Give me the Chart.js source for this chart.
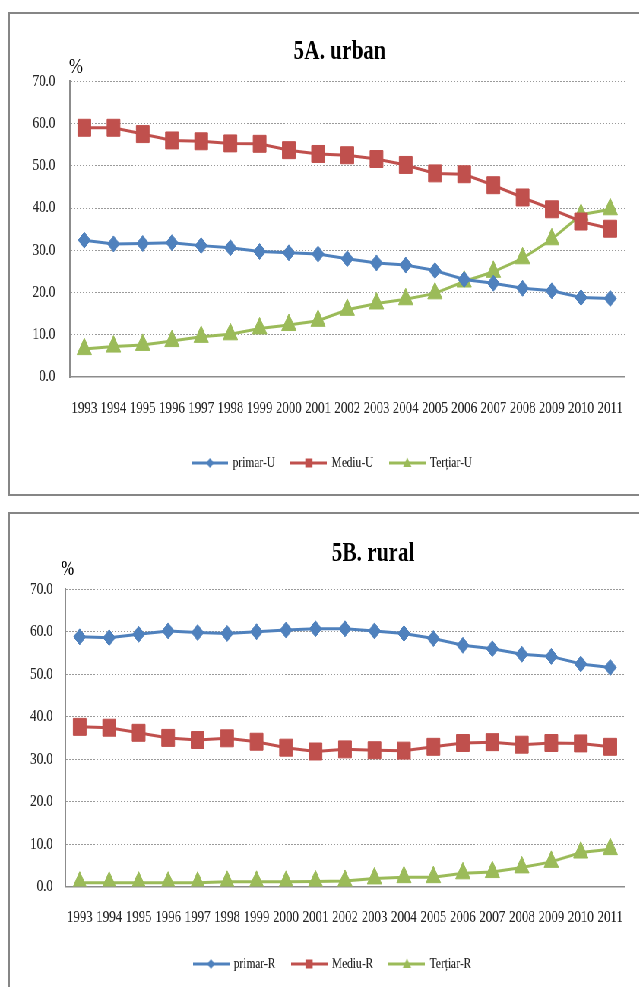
<!DOCTYPE html>
<html>
<head>
<meta charset="utf-8">
<script src="https://cdn.jsdelivr.net/npm/chart.js@4.4.1/dist/chart.umd.min.js"></script>
<style>
  html, body { margin: 0; padding: 0; background: #fff; overflow: hidden; }
  #page { position: relative; width: 639px; height: 987px; overflow: hidden; background: #fff; }
  .box { position: absolute; border: 2px solid #868686; box-sizing: content-box; }
  #wrap { position: absolute; left: 0; top: 0; width: 841px; height: 987px; transform: scaleX(0.76); transform-origin: 0 0; }
  canvas { position: absolute; left: 0; }
</style>
</head>
<body>
<div id="page">
  <div class="box" style="left:8px;top:12px;width:900px;height:480px;"></div>
  <div class="box" style="left:8px;top:512px;width:900px;height:600px;"></div>
  <div id="wrap">
    <canvas id="c1" width="841" height="500" style="top:0;width:841px;height:500px;"></canvas>
    <canvas id="c2" width="841" height="487" style="top:500px;width:841px;height:487px;"></canvas>
  </div>
</div>
<script>
// ---- data ----
const years = ['1993','1994','1995','1996','1997','1998','1999','2000','2001','2002','2003','2004','2005','2006','2007','2008','2009','2010','2011'];
const yTicks = [0, 10, 20, 30, 40, 50, 60, 70];

const primarU  = [32.4,31.5,31.6,31.8,31.1,30.6,29.7,29.4,29.1,28.0,27.0,26.5,25.2,23.1,22.2,21.0,20.4,18.8,18.6];
const mediuU   = [59.0,59.0,57.5,56.0,55.8,55.3,55.2,53.7,52.8,52.5,51.6,50.2,48.2,48.0,45.4,42.5,39.7,36.8,35.1];
const tertiarU = [6.6,7.2,7.6,8.5,9.5,10.1,11.5,12.3,13.3,15.9,17.4,18.4,19.8,22.6,24.9,28.1,32.6,38.4,39.7];

const primarR  = [58.8,58.6,59.4,60.2,59.8,59.6,60.0,60.4,60.7,60.7,60.2,59.6,58.4,56.8,56.0,54.7,54.2,52.4,51.6];
const mediuR   = [37.6,37.4,36.2,35.0,34.5,34.9,34.1,32.7,31.8,32.3,32.1,32.0,32.9,33.8,34.0,33.4,33.8,33.7,32.9];
const tertiarR = [0.9,0.9,0.9,0.9,0.9,1.1,1.1,1.1,1.2,1.3,1.9,2.2,2.2,3.1,3.4,4.5,5.8,8.0,8.8];

const labelsU = ['primar-U', 'Mediu-U', 'Terțiar-U'];
const labelsR = ['primar-R', 'Mediu-R', 'Terțiar-R'];

// ---- styles ----
const BLUE = '#4f81bd', RED = '#c0504d', GREEN = '#9bbb59';
const FONT = '"Liberation Serif", "Times New Roman", serif';
Chart.defaults.font.family = FONT;

function legendImg(color, shape) {
  const c = document.createElement('canvas');
  c.width = 48; c.height = 14;
  const g = c.getContext('2d');
  g.strokeStyle = color; g.lineWidth = 3;
  g.beginPath(); g.moveTo(0, 7); g.lineTo(48, 7); g.stroke();
  g.fillStyle = color;
  g.beginPath();
  if (shape === 'diamond') { g.moveTo(24, 2); g.lineTo(29, 7); g.lineTo(24, 12); g.lineTo(19, 7); }
  else if (shape === 'square') { g.rect(19.5, 2.5, 9, 9); }
  else { g.moveTo(24, 1.5); g.lineTo(29.5, 11); g.lineTo(18.5, 11); }
  g.closePath(); g.fill();
  return c;
}
const legImgs = [legendImg(BLUE, 'diamond'), legendImg(RED, 'square'), legendImg(GREEN, 'triangle')];

const deco = {
  id: 'deco',
  afterLayout(chart, args, o) {
    const l = chart.legend;
    if (l) {
      const h = 60;
      l.left = o.legendDx; l.right = chart.width + o.legendDx;
      l.top = o.legendTop; l.bottom = o.legendTop + h;
      l.width = l.right - l.left; l.height = h;
    }
  },
  afterDraw(chart, args, o) {
    const ctx = chart.ctx;
    ctx.save();
    ctx.fillStyle = '#000';
    ctx.textAlign = 'center';
    ctx.textBaseline = 'middle';
    ctx.font = 'bold 28px ' + FONT;
    ctx.fillText(o.title, o.tx, o.ty);
    ctx.font = o.pfont;
    ctx.fillText('%', o.px, o.py);
    ctx.restore();
  }
};

function makeChart(id, series, names, lay) {
  const colors = [BLUE, RED, GREEN];
  const styles = ['rectRot', 'rect', 'triangle'];
  const radii = [8, 12, 11];
  const datasets = series.map((s, i) => ({
    label: names[i],
    data: s,
    borderColor: colors[i],
    backgroundColor: colors[i],
    borderWidth: 3,
    tension: 0,
    pointStyle: styles[i],
    pointRadius: radii[i],
    pointBackgroundColor: colors[i],
    pointBorderColor: colors[i],
    pointBorderWidth: 1
  }));
  return new Chart(document.getElementById(id), {
    type: 'line',
    data: { labels: years, datasets },
    plugins: [deco],
    options: {
      responsive: false,
      animation: false,
      devicePixelRatio: 1,
      layout: { padding: { left: 0, right: lay.padRight, top: lay.top, bottom: lay.padBottom } },
      scales: {
        x: {
          type: 'category',
          offset: true,
          grid: { display: false, drawTicks: false },
          border: { display: true, color: '#8c8c8c', width: 1.5 },
          ticks: { autoSkip: false, maxRotation: 0, minRotation: 0, padding: lay.xPad, color: '#262626', font: { size: 17 } },
          afterFit: s => { s.height = 40; }
        },
        y: {
          min: 0, max: 70,
          afterBuildTicks: s => { s.ticks = yTicks.map(v => ({ value: v })); },
          grid: {
            drawTicks: false,
            lineWidth: 1,
            color: c => (c.tick && c.tick.value === 0) ? 'rgba(0,0,0,0)' : '#9a9a9a'
          },
          border: { display: true, color: '#8c8c8c', width: 2, dash: [2, 2] },
          ticks: { padding: lay.yPad, color: '#262626', font: { size: 17 }, callback: v => Number(v).toFixed(1) },
          afterFit: s => { s.width = lay.left; }
        }
      },
      plugins: {
        tooltip: { enabled: false },
        title: { display: false },
        legend: {
          display: true,
          position: 'bottom',
          maxHeight: 1,
          labels: {
            usePointStyle: true,
            pointStyleWidth: 45,
            boxHeight: 15,
            padding: 22,
            color: '#262626',
            font: { size: 15 },
            generateLabels: chart => chart.data.datasets.map((ds, i) => ({
              text: ds.label,
              pointStyle: legImgs[i],
              fillStyle: ds.borderColor,
              strokeStyle: ds.borderColor,
              lineWidth: 0,
              hidden: false,
              datasetIndex: i,
              fontColor: '#262626'
            }))
          }
        },
        deco: lay.deco
      }
    }
  });
}

makeChart('c1', [primarU, mediuU, tertiarU], labelsU, {
  left: 91.7, top: 81.3, padRight: 7.6, padBottom: 500 - 377 - 40 - 1, xPad: 21, yPad: 19,
  deco: { title: '5A. urban', tx: 447, ty: 51.5, px: 100, py: 67, pfont: '22px ' + FONT, legendTop: 433.5, legendDx: 17 }
});
makeChart('c2', [primarR, mediuR, tertiarR], labelsR, {
  left: 85.5, top: 89.3, padRight: 9.2, padBottom: 487 - 386.5 - 40 - 1, xPad: 21, yPad: 16,
  deco: { title: '5B. rural', tx: 491, ty: 54, px: 89, py: 69.5, pfont: '20px ' + FONT, legendTop: 434.5, legendDx: 17 }
});
</script>
</body>
</html>
